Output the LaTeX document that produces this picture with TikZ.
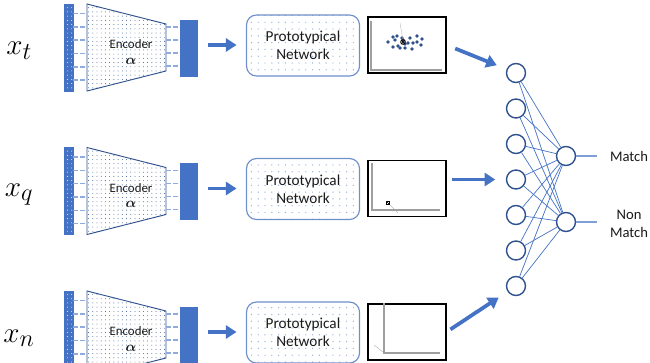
\documentclass[tikz,border=0pt]{standalone}
\usepackage{fontspec}
\setmainfont{Carlito}
\usepackage{bm}
\usepackage{xcolor}
\usetikzlibrary{arrows.meta, patterns, positioning}

\definecolor{encblue}{HTML}{4472C4}
\definecolor{darkblue}{HTML}{2F528F}
\definecolor{dashblue}{HTML}{8FAADC}
\definecolor{protoline}{HTML}{6F8FCB}
\definecolor{txtgray}{HTML}{1A1A1A}

\pgfdeclarepatternformonly{fine dots}{\pgfqpoint{-0.5pt}{-0.5pt}}{\pgfqpoint{0.5pt}{0.5pt}}{\pgfqpoint{3.6pt}{3.6pt}}{\pgfpathcircle{\pgfpointorigin}{0.4pt}\pgfusepath{fill}}
\pgfdeclarepatternformonly{sparse dots}{\pgfqpoint{-0.7pt}{-0.7pt}}{\pgfqpoint{0.7pt}{0.7pt}}{\pgfqpoint{5.8pt}{5.8pt}}{\pgfpathcircle{\pgfpointorigin}{0.6pt}\pgfusepath{fill}}

\tikzset{
  inbar/.style={draw=encblue, fill=encblue, postaction={pattern=fine dots, pattern color=white}, minimum width=0.27cm, minimum height=2.61cm, inner sep=0},
  trap/.style={draw=darkblue, line width=0.8pt, pattern=fine dots, pattern color=darkblue},
  link/.style={dashblue, line width=1.2pt, dash pattern=on 4pt off 2pt},
  codebox/.style={draw=encblue, fill=encblue, minimum width=0.51cm, minimum height=1.68cm, inner sep=0},
  enctext/.style={align=center, text=txtgray, font=\fontsize{11}{13}\selectfont, inner sep=0},
  proto/.style={draw=protoline, line width=1pt, rounded corners=0.3cm, pattern=sparse dots, pattern color=encblue!55, minimum width=3.39cm, minimum height=1.83cm, align=center, text=txtgray, font=\fontsize{13}{15}\selectfont},
  plotbox/.style={draw=black, line width=0.9pt, fill=white, minimum width=2.34cm, minimum height=1.68cm, inner sep=0},
  axis/.style={draw=gray!75, line width=1pt},
  bigarrow/.style={encblue, line width=3.2pt, -{Triangle[length=9pt, width=11pt]}},
  neuron/.style={circle, draw=darkblue, line width=1.2pt, minimum size=0.57cm, inner sep=0},
  netline/.style={encblue, line width=0.6pt},
  outline/.style={dashblue!80!encblue, line width=0.9pt},
  outtext/.style={align=center, text=txtgray, font=\fontsize{12.5}{15}\selectfont, inner sep=2pt},
  xlab/.style={font=\Huge, inner sep=0}
}

\begin{document}
\begin{tikzpicture}[x=0.03cm, y=-0.03cm]
\clip (0,0) rectangle (650,362);

% the three branches
\foreach \r/\dy in {t/0, q/143.5, n/287}{
\begin{scope}[shift={(0,\dy)}]
\node[xlab] (x_\r) at (19,51) {$x_{\r}$};

\node[inbar] (bar_\r) at (68.5,47.5) {};
\draw[trap] (87,4) -- (166,24) -- (166,71) -- (87,91) -- cycle;
\node[enctext] (enc_\r) at (131,52) {Encoder\\{\fontsize{12.5}{13}\selectfont$\bm{\alpha}$}};
\foreach \yy in {13.5,27,40,53.5,67,80}
  \draw[link] (bar_\r.east |- 0,\yy) -- (87,\yy);

\node[codebox] (code_\r) at (188.5,48) {};
\foreach \yy in {27,40,53,66}
  \draw[link] (166,\yy) -- (code_\r.west |- 0,\yy);

\node[proto] (proto_\r) at (303,45.5) {Prototypical\\Network};
\node[plotbox] (plot_\r) at (407,45) {};

\draw[bigarrow, shorten <=9pt, shorten >=8pt] (code_\r.east |- 0,45) -- (proto_\r.west |- 0,45);
\end{scope}
}

% plot contents
\draw[axis] (371,21) -- (371,70) -- (442,70);
\foreach \px/\py in {388/42, 393/37, 397/36, 402/38, 410/38, 417/36, 422/39, 417/42, 413/43, 408/43, 405/44, 398/46, 393/47, 400/48, 405/48, 412/49, 421/45, 395/40, 403/40}
  \fill[darkblue] (\px,\py) circle (1.8);
\draw[gray!60, line width=0.3pt] (400,23) -- (403,40);
\draw[black, line width=0.6pt] (403,42) circle (2.4) (401,40) -- (405,44) (401,44) -- (405,40);

\draw[axis] (372,163) -- (372,210) -- (440,210);
\draw[gray!70, line width=0.3pt] (388,203) -- (398,213);
\draw[black, line width=0.5pt] (386.5,201.5) rectangle (389.5,204.5) (387,202) -- (389,204);

\draw[axis] (384,303) -- (384,353) -- (440,353);
\draw[gray!70, line width=0.3pt] (374,345) -- (383,352);

% classifier
\foreach \i in {1,...,7}
  \node[neuron] (in\i) at (516,{73+35.5*(\i-1)}) {};
\node[neuron] (o1) at (566,156) {};
\node[neuron] (o2) at (566,222) {};
\foreach \i in {1,...,7}
  \foreach \j in {1,2}
    \draw[netline] (in\i) -- (o\j);

\node[outtext] (match) at (629,156) {Match};
\node[outtext] (nomatch) at (629,224) {Non\\Match};
\draw[outline] (o1) -- ([xshift=-9pt]o1 -| match.west);
\draw[outline] (o2) -- ([xshift=-9pt]o2 -| nomatch.west);

\draw[bigarrow, shorten <=8pt, shorten >=9pt] (plot_t.east) -- (in1);
\draw[bigarrow, shorten <=5pt, shorten >=9pt] (plot_q.east |- in4) -- (in4);
\draw[bigarrow, shorten <=4pt, shorten >=9pt] (plot_n.east) -- (in7);
\end{tikzpicture}
\end{document}
